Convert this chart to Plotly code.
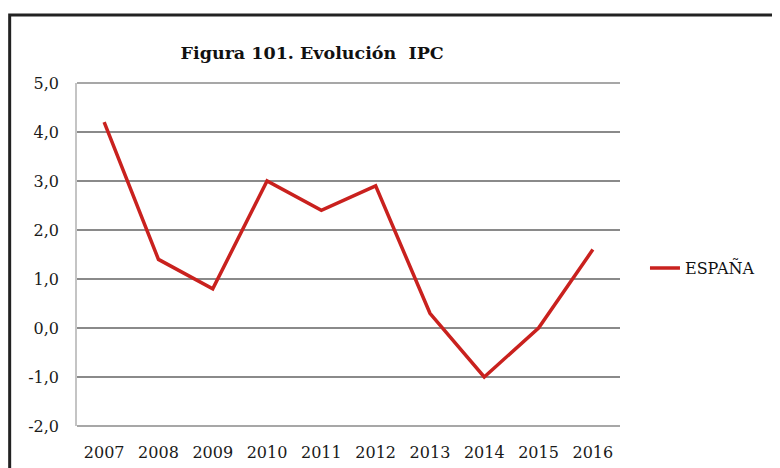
import plotly.graph_objects as go

years = ["2007", "2008", "2009", "2010", "2011", "2012", "2013", "2014", "2015", "2016"]
ipc_espana = [4.2, 1.4, 0.8, 3.0, 2.4, 2.9, 0.3, -1.0, 0.0, 1.6]
y_ticks = [-2, -1, 0, 1, 2, 3, 4, 5]
y_tick_labels = ["-2,0", "-1,0", "0,0", "1,0", "2,0", "3,0", "4,0", "5,0"]

fig = go.Figure()
fig.add_trace(go.Scatter(x=years, y=ipc_espana, mode="lines", name="ESPAÑA",
                         line=dict(color="#c9211e", width=3.5)))

font_serif = "DejaVu Serif"

# the page has an 8px body margin, so the figure is sized to fit the window
fig.update_layout(
    width=772, height=460,
    margin=dict(l=69, r=160, t=75, b=42),
    paper_bgcolor="white", plot_bgcolor="white",
    title=dict(text="<b>Figura 101. Evolución  IPC</b>", x=0.394, xanchor="center",
               y=0.902, yanchor="middle",
               font=dict(family=font_serif, size=17.5, color="#111")),
    font=dict(family=font_serif, size=16, color="#1a1a1a"),
    showlegend=True,
    legend=dict(x=1.046, y=0.46, xanchor="left", yanchor="middle",
                font=dict(family=font_serif, size=16, color="#111"),
                bgcolor="rgba(0,0,0,0)"),
)

fig.update_xaxes(type="category", range=[-0.5, 9.5], showgrid=False, automargin=False,
                 showline=False, ticks="", ticklabelstandoff=15,
                 tickfont=dict(size=16, color="#1a1a1a"))
fig.update_yaxes(range=[-2, 5], tickvals=y_ticks, ticktext=y_tick_labels, automargin=False,
                 showgrid=True, gridcolor="#8a8a8a", gridwidth=1.5,
                 zeroline=False, showline=True, linecolor="#c4c4c4", linewidth=1.5,
                 ticks="", ticklabelstandoff=13, tickfont=dict(size=16, color="#1a1a1a"))

# top gridline at 5,0 and bottom axis line at -2,0
for yv in (0, 1):
    fig.add_shape(type="line", xref="paper", yref="paper", x0=0, x1=1, y0=yv, y1=yv,
                  line=dict(color="#8a8a8a", width=1.5))

# outer frame of the figure
fig.add_shape(type="rect", xref="paper", yref="paper",
              x0=-0.124, x1=1.33, y0=-0.2, y1=1.198,
              line=dict(color="#222", width=3), layer="above")

fig.write_html("out.html")
